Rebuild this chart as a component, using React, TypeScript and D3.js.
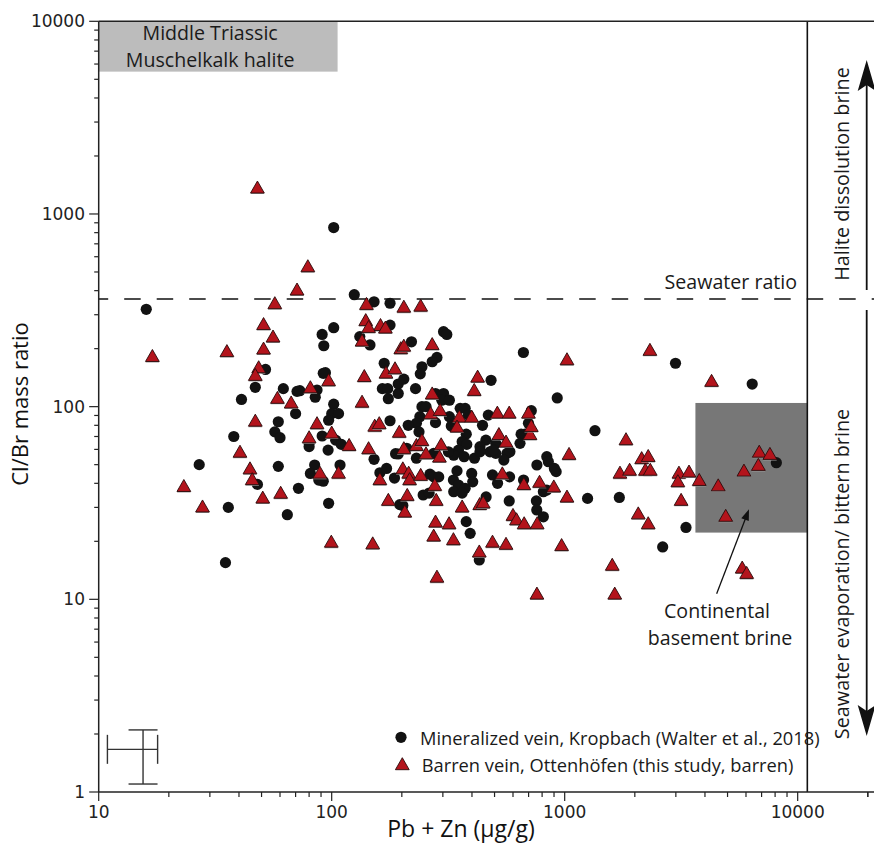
import React, { useEffect, useRef } from 'react';
import * as d3 from 'd3';

// Mineralized vein, Kropbach (Walter et al., 2018): [Pb+Zn µg/g, Cl/Br]
const kropbach: [number, number][] = [
  [16, 320], [125, 381], [152, 350], [178, 344], [52, 156], [47, 126], [41, 109],
  [62, 124], [71, 120], [73, 121], [86.5, 122], [85, 112], [92, 149], [94, 150],
  [70, 92], [59, 83.5], [57, 74], [60, 69], [38, 70], [27, 50], [48, 39.5], [36, 30],
  [59, 49], [64.5, 27.5], [72, 37.7], [97, 31.5], [102, 103], [100, 92], [97, 85],
  [107, 92], [91, 70.4], [80, 64.5], [80, 62], [96.5, 59.5], [104, 67], [110, 63.7],
  [84.5, 49.8], [81, 45], [88, 41.6], [92, 41], [108.6, 49.8], [152, 53.3], [168, 168],
  [165, 124], [174, 124], [175, 110], [178, 84.5], [188, 57], [161, 45.4], [172, 47.8],
  [186, 42.6], [196, 31], [178, 265], [132, 231], [146, 209], [91, 237], [102, 257],
  [92.5, 207], [193, 131], [193, 117], [302, 245], [312, 237], [220, 217], [665, 191],
  [2990, 168], [283, 180], [270, 171], [244, 161], [240, 148], [204, 139], [229, 124],
  [483, 137], [279, 117], [302, 117], [297, 108], [320, 108], [929, 111], [1349, 75],
  [244, 100], [254, 100], [239, 88.7], [231, 82], [237, 74], [279, 82.6], [320, 88.7],
  [326, 79.3], [356, 98], [374, 98], [386, 90.4], [378, 72], [444, 80], [470, 90.4],
  [719, 95.3], [699, 82], [675, 72], [650, 72], [643, 64.5], [459, 67], [506, 64.5],
  [433, 62], [478, 58.3], [506, 57.2], [565, 57.2], [582, 58.3], [548, 52.8], [760, 49.8],
  [838, 55], [851, 51.8], [919, 46], [903, 47.8], [363, 65.8], [380, 63.7], [350, 59.5],
  [334, 56], [370, 55], [210, 60.8], [231, 54], [274, 57.2], [193, 56.8], [264, 44.6],
  [274, 43.2], [288, 43.2], [247, 34.8], [262, 35.6], [333, 41.6], [350, 39.2],
  [374, 37.7], [334, 36.2], [363, 35.6], [202, 30.7], [378, 25.3], [393, 22], [399, 45],
  [403, 40.7], [345, 46.4], [490, 44.2], [515, 40], [580, 43.2], [666, 41.6], [810, 36.2],
  [838, 36.9], [1254, 33.4], [1716, 33.8], [578, 32.4], [756, 32.4], [759, 29.1],
  [810, 26.8], [2634, 18.7], [317, 58.3], [410, 54], [433, 58.3], [494, 59.5], [460, 34],
  [430, 16.0], [213, 80], [6380, 131], [3316, 23.6], [8100, 51.2], [35, 15.5], [102, 850],
];

// Barren vein, Ottenhöfen (this study)
const ottenhofen: [number, number][] = [
  [48, 1370], [79, 535], [71, 405], [17, 183], [35.5, 194], [57, 344], [141, 341],
  [51, 268], [56, 231], [51, 200], [48.6, 160], [47, 146], [58.5, 111], [67, 105],
  [81, 126], [97, 137], [47, 84.5], [40.4, 58.3], [44.6, 47.8], [45.6, 42], [23.2, 38.7],
  [27.9, 30.3], [50.6, 33.7], [60.4, 35.7], [99.6, 19.9], [150, 19.5], [100, 73.3],
  [86.5, 82], [80, 69.3], [118.8, 63.2], [89, 45.4], [107, 45.4], [144, 60.8], [138, 144],
  [135, 106], [171, 150], [153, 79.6], [160, 82], [161, 42], [175, 32.8], [140, 281],
  [162, 265], [170, 257], [144, 259], [135, 220], [187, 158], [198, 201], [195, 74],
  [204, 330], [241, 334], [204, 207], [270, 211], [1023, 176], [2322, 197], [423, 143],
  [409, 122], [270, 117], [1833, 67.7], [266, 92.3], [292, 96], [353, 88.7], [345, 78.7],
  [399, 88.7], [514, 93], [578, 93], [699, 93], [710, 72], [719, 79.3], [522, 72],
  [560, 65.8], [1044, 56.8], [295, 63.7], [290, 55], [254, 57.2], [231, 63.2], [244, 67],
  [204, 60.8], [202, 47.8], [214, 45.4], [216, 42], [241, 44.2], [277, 39.2], [281, 32.8],
  [206, 28.5], [211, 34.8], [279, 25.3], [319, 24.8], [274, 21.4], [333, 20.5], [363, 30.3],
  [432, 31.2], [540, 45], [668, 39.6], [780, 40.7], [898, 38.5], [1023, 34.1], [600, 27.4],
  [621, 26], [670, 24.8], [762, 24.8], [447, 31.8], [490, 19.9], [560, 19.4], [970, 19.1],
  [2069, 27.9], [2283, 24.8], [2140, 54], [2283, 55.4], [1727, 45.4], [1900, 47],
  [2220, 47], [2330, 47], [3093, 45.4], [3417, 46], [3060, 41], [3780, 41.6], [3160, 32.8],
  [4270, 136], [4560, 39], [4910, 27.1], [5880, 46.5], [6840, 58.3], [7600, 56.8],
  [6780, 49.8], [1600, 15.1], [1640, 10.7], [5780, 14.6], [6040, 13.7], [430, 17.7],
  [283, 13.1], [760, 10.7],
];

const xTicks = [10, 100, 1000, 10000];
const yTicks = [1, 10, 100, 1000, 10000];
const seawaterRatio = 362;
const boundaryPbZn = 11000;
// [x0, x1, y0, y1]
const haliteBox = [10, 106, 5480, 10000];
const basementBox = [3640, 11000, 22.2, 104.5];
// typical error: [x, xLow, xHigh, y, yLow, yHigh]
const errorBar = [15.5, 10.9, 17.9, 1.665, 1.1, 2.1];
// arrow pointing into the basement box: [x0, y0, x1, y1]
const basementArrow = [4490, 10.7, 6180, 29.3];

const W = 874;
const H = 845;
const SANS = "'Open Sans', sans-serif";
const TICK_FONT = "'DejaVu Sans', sans-serif";

export default function App() {
  const svgRef = useRef<SVGSVGElement>(null);

  useEffect(() => {
    const svg = d3.select(svgRef.current);
    svg.selectAll('*').remove();

    const x = d3.scaleLog().domain([10, 21260]).range([98.7, W]);
    const y = d3.scaleLog().domain([1, 10000]).range([792, 21.3]);
    const left = x(10), bottom = y(1), top = y(10000);

    svg.append('rect').attr('width', W).attr('height', H).attr('fill', '#fff');

    // shaded fields
    svg.append('rect')
      .attr('x', x(haliteBox[0])).attr('y', y(haliteBox[3]))
      .attr('width', x(haliteBox[1]) - x(haliteBox[0]))
      .attr('height', y(haliteBox[2]) - y(haliteBox[3]))
      .attr('fill', '#bcbcbc');
    svg.append('rect')
      .attr('x', x(basementBox[0])).attr('y', y(basementBox[3]))
      .attr('width', x(basementBox[1]) - x(basementBox[0]))
      .attr('height', y(basementBox[2]) - y(basementBox[3]))
      .attr('fill', '#777777');

    // seawater line
    svg.append('line')
      .attr('x1', left).attr('x2', W)
      .attr('y1', y(seawaterRatio)).attr('y2', y(seawaterRatio))
      .attr('stroke', '#111').attr('stroke-width', 1.4)
      .attr('stroke-dasharray', '16.5 16')
      .attr('stroke-dashoffset', 7);

    // boundary line
    svg.append('line')
      .attr('x1', x(boundaryPbZn)).attr('x2', x(boundaryPbZn))
      .attr('y1', top).attr('y2', bottom)
      .attr('stroke', '#111').attr('stroke-width', 1.6);

    // error bar
    const eb = svg.append('g').attr('stroke', '#333').attr('stroke-width', 1.4).attr('fill', 'none');
    const [ex, exl, exh, ey, eyl, eyh] = errorBar;
    eb.append('line').attr('x1', x(exl)).attr('x2', x(exh)).attr('y1', y(ey)).attr('y2', y(ey));
    eb.append('line').attr('x1', x(ex)).attr('x2', x(ex)).attr('y1', y(eyl)).attr('y2', y(eyh));
    [exl, exh].forEach(v => eb.append('line').attr('x1', x(v)).attr('x2', x(v))
      .attr('y1', y(ey) - 14.5).attr('y2', y(ey) + 14.5));
    [eyl, eyh].forEach(v => eb.append('line').attr('x1', x(ex) - 14.5).attr('x2', x(ex) + 14.5)
      .attr('y1', y(v)).attr('y2', y(v)));

    // points
    const triPath = 'M0,-6.6L6.9,5.4L-6.9,5.4Z';
    svg.append('g').selectAll('circle').data(kropbach).enter().append('circle')
      .attr('cx', d => x(d[0])).attr('cy', d => y(d[1])).attr('r', 5.6)
      .attr('fill', '#121212');
    const tri = svg.append('g').selectAll('g').data(ottenhofen).enter().append('g')
      .attr('transform', d => `translate(${x(d[0])},${y(d[1])})`);
    tri.append('path').attr('d', triPath).attr('transform', 'translate(0,1)')
      .attr('fill', '#9a9a9a');
    tri.append('path').attr('d', triPath)
      .attr('fill', '#b3141c').attr('stroke', '#2a0a0a').attr('stroke-width', 0.9)
      .attr('stroke-linejoin', 'miter');

    // spines
    const spine = svg.append('g').attr('stroke', '#222').attr('stroke-width', 1.5);
    spine.append('line').attr('x1', left).attr('x2', left).attr('y1', top).attr('y2', bottom);
    spine.append('line').attr('x1', left).attr('x2', W).attr('y1', bottom).attr('y2', bottom);
    spine.append('line').attr('x1', left).attr('x2', W).attr('y1', top).attr('y2', top);

    // ticks
    const tk = svg.append('g').attr('stroke', '#222').attr('stroke-width', 1.2);
    const xMinor: number[] = [];
    for (let e = 10; e <= 10000; e *= 10) for (let m = 1; m <= 9; m++) {
      const v = e * m; if (v <= 21260) xMinor.push(v);
    }
    xMinor.push(20000);
    xMinor.forEach(v => {
      const major = xTicks.includes(v);
      tk.append('line').attr('x1', x(v)).attr('x2', x(v))
        .attr('y1', bottom).attr('y2', bottom + (major ? 9 : 5));
    });
    const yMinor: number[] = [];
    for (let e = 1; e <= 1000; e *= 10) for (let m = 1; m <= 9; m++) yMinor.push(e * m);
    yMinor.push(10000);
    yMinor.forEach(v => {
      const major = yTicks.includes(v);
      tk.append('line').attr('y1', y(v)).attr('y2', y(v))
        .attr('x1', left).attr('x2', left - (major ? 9.5 : 4.5));
    });

    svg.append('g').selectAll('text').data(xTicks).enter().append('text')
      .attr('x', d => x(d)).attr('y', 818).attr('text-anchor', 'middle')
      .attr('font-family', TICK_FONT).attr('font-size', 17).attr('fill', '#222')
      .text(d => String(d));
    svg.append('g').selectAll('text').data(yTicks).enter().append('text')
      .attr('x', 85).attr('y', d => y(d)).attr('dy', '0.36em').attr('text-anchor', 'end')
      .attr('font-family', TICK_FONT).attr('font-size', 17).attr('fill', '#222')
      .text(d => String(d));

    // axis titles
    svg.append('text').attr('x', 461).attr('y', 837).attr('text-anchor', 'middle')
      .attr('font-family', SANS).attr('font-size', 23).attr('fill', '#111')
      .text('Pb + Zn (µg/g)');
    svg.append('text').attr('transform', 'translate(28,404) rotate(-90)')
      .attr('text-anchor', 'middle')
      .attr('font-family', SANS).attr('font-size', 22).attr('fill', '#111')
      .text('Cl/Br mass ratio');

    const label = (t: string, px: number, py: number, anchor = 'middle', rot = 0, size = 19.6) =>
      svg.append('text')
        .attr('transform', `translate(${px},${py})${rot ? ` rotate(${rot})` : ''}`)
        .attr('text-anchor', anchor)
        .attr('font-family', SANS).attr('font-size', size).attr('fill', '#1a1a1a')
        .text(t);

    const hx = (x(haliteBox[0]) + x(haliteBox[1])) / 2 - 8;
    label('Middle Triassic', hx, 40);
    label('Muschelkalk halite', hx, 66.5);
    label('Seawater ratio', 797, y(seawaterRatio) - 10, 'end');
    label('Continental', 717, 618);
    label('basement brine', 720, 645);
    label('Halite dissolution brine', 849, 174, 'middle', -90, 19.8);
    label('Seawater evaporation/ bittern brine', 849, 574, 'middle', -90, 19.8);

    // basement arrow
    const [ax0, ay0, ax1, ay1] = basementArrow;
    const p0 = [x(ax0), y(ay0)], p1 = [x(ax1), y(ay1)];
    const ang = Math.atan2(p1[1] - p0[1], p1[0] - p0[0]);
    svg.append('line').attr('x1', p0[0]).attr('y1', p0[1])
      .attr('x2', p1[0] - Math.cos(ang) * 6).attr('y2', p1[1] - Math.sin(ang) * 6)
      .attr('stroke', '#111').attr('stroke-width', 1.3);
    svg.append('path').attr('d', 'M0,0L-11,-4L-11,4Z')
      .attr('transform', `translate(${p1[0]},${p1[1]}) rotate(${(ang * 180) / Math.PI})`)
      .attr('fill', '#111');

    // right-side process arrows
    const ax = 866.7;
    const arrowHead = 'M0,0L9,31L0,25L-9,31Z';
    svg.append('line').attr('x1', ax).attr('x2', ax).attr('y1', y(seawaterRatio) - 9).attr('y2', 80)
      .attr('stroke', '#111').attr('stroke-width', 1.8);
    svg.append('path').attr('d', arrowHead).attr('transform', `translate(${ax},60)`).attr('fill', '#111');
    svg.append('line').attr('x1', ax).attr('x2', ax).attr('y1', y(seawaterRatio) + 11).attr('y2', 715)
      .attr('stroke', '#111').attr('stroke-width', 1.8);
    svg.append('path').attr('d', arrowHead).attr('transform', `translate(${ax},736) rotate(180)`).attr('fill', '#111');

    // legend
    const lg = svg.append('g');
    lg.append('circle').attr('cx', 401).attr('cy', 737.3).attr('r', 5.6).attr('fill', '#121212');
    lg.append('path').attr('d', triPath).attr('transform', 'translate(402.3,764.3)')
      .attr('fill', '#b3141c').attr('stroke', '#2a0a0a').attr('stroke-width', 0.9);
    lg.append('text').attr('x', 420).attr('y', 745).attr('font-family', SANS)
      .attr('font-size', 18.3).attr('fill', '#1a1a1a')
      .text('Mineralized vein, Kropbach (Walter et al., 2018)');
    lg.append('text').attr('x', 421.7).attr('y', 771.5).attr('font-family', SANS)
      .attr('font-size', 18.3).attr('fill', '#1a1a1a')
      .text('Barren vein, Ottenhöfen (this study, barren)');
  }, []);

  return (
    <svg ref={svgRef} width={W} height={H}
      style={{ position: 'absolute', left: 0, top: 0, display: 'block' }} />
  );
}
